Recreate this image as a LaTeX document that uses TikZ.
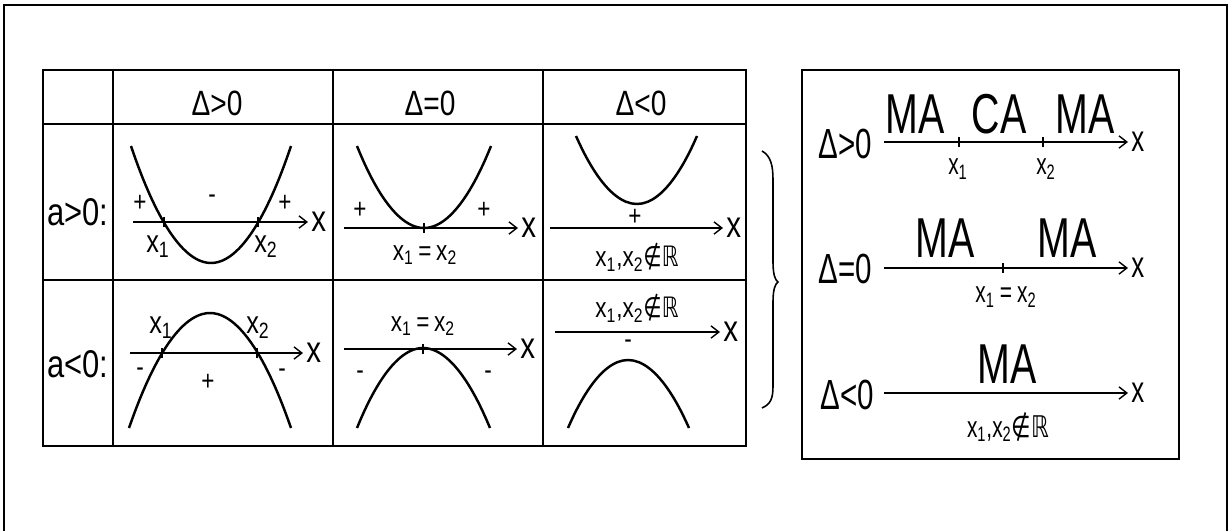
\documentclass[tikz,border=0pt]{standalone}
\usepackage{fontspec}
\setmainfont[FakeStretch=0.8]{Liberation Sans}
\newfontfamily\narrowfont[FakeStretch=0.7]{Liberation Sans}
\newfontfamily\symbolfont[FakeStretch=0.75]{DejaVu Sans}
\usetikzlibrary{arrows.meta}
\newcommand{\xone}{x\textsubscript{1}}
\newcommand{\xtwo}{x\textsubscript{2}}
\newcommand{\notinR}{\xone,\xtwo{\symbolfont ∉ℝ}}
\newcommand{\xsame}{\xone\,=\,\xtwo}

\begin{document}
\begin{tikzpicture}[x=0.02cm, y=-0.02cm,
  grid/.style={line width=1.6pt},
  curve/.style={line width=1.4pt},
  axis/.style={line width=0.8pt, -{Straight Barb[length=4.5pt, width=7pt]}},
  tick/.style={line width=0.8pt},
  hdr/.style={font=\fontsize{20}{22}\selectfont, anchor=base, inner sep=0pt},
  rowlbl/.style={font=\fontsize{22}{24}\selectfont, anchor=base, inner sep=0pt},
  lbl/.style={font=\fontsize{18}{20}\selectfont, inner sep=0pt},
  small/.style={font=\fontsize{16}{18}\selectfont, inner sep=0pt},
  sgn/.style={font=\fontsize{16}{18}\selectfont, inner sep=0pt},
  axlbl/.style={font=\fontsize{21}{23}\selectfont, anchor=west, inner sep=1.5pt},
  big/.style={font=\narrowfont\fontsize{32}{34}\selectfont, anchor=base, inner sep=0pt},
  mid/.style={font=\narrowfont\fontsize{24}{26}\selectfont, anchor=base, inner sep=0pt},
  rlbl/.style={font=\narrowfont\fontsize{17}{19}\selectfont, inner sep=0pt},
  raxlbl/.style={font=\narrowfont\fontsize{21}{23}\selectfont, anchor=west, inner sep=1.5pt}]
\useasboundingbox (0,0) rectangle (1228,531);
\draw[line width=0.9pt] (4,5) rectangle (1227,560);

% table
\draw[grid] (43,70) rectangle (746,446);
\foreach \cx in {113,333,543} \draw[grid] (\cx,70) -- (\cx,446);
\foreach \cy in {124,280} \draw[grid] (43,\cy) -- (746,\cy);
\node[hdr] (hpos) at (217,115) {Δ>0};
\node[hdr] (hzero) at (430,115) {Δ=0};
\node[hdr] (hneg) at (641,115) {Δ<0};
\node[rowlbl] (rpos) at (78,225) {a>0:};
\node[rowlbl] (rneg) at (78,377) {a<0:};

% a>0, delta>0
\draw[curve] (131,146) parabola bend (211,263) (291,146);
\draw[axis] (133,222) -- (308,222) node[axlbl] (xa1) {x};
\foreach \rx in {164,258} \draw[tick] (\rx,217) -- (\rx,227);
\node[sgn] (s11) at (140,203) {+};
\node[sgn] (s12) at (212,199) {-};
\node[sgn] (s13) at (285,203) {+};
\node[lbl] (r11) at (158,247) {\xone};
\node[lbl] (r12) at (266,247) {\xtwo};

% a>0, delta=0
\draw[curve] (357,146) parabola bend (424,228) (491,146);
\draw[axis] (344,228) -- (518,228) node[axlbl] (xa2) {x};
\draw[tick] (424,223) -- (424,233);
\node[sgn] (s21) at (360,210) {+};
\node[sgn] (s22) at (484,210) {+};
\node[small] (r21) at (425,255) {\xsame};

% a>0, delta<0
\draw[curve] (576,136) parabola bend (637,204) (697,136);
\draw[axis] (550,228) -- (723,228) node[axlbl] (xa3) {x};
\node[sgn] (s31) at (635,217) {+};
\node[small] (r31) at (637,257) {\notinR};

% a<0, delta>0
\draw[curve] (129,428) parabola bend (210,313) (291,428);
\draw[axis] (130,353) -- (303,353) node[axlbl] (xa4) {x};
\foreach \rx in {162,257} \draw[tick] (\rx,348) -- (\rx,358);
\node[sgn] (s41) at (140,372) {-};
\node[sgn] (s42) at (208,382) {+};
\node[sgn] (s43) at (282,373) {-};
\node[lbl] (r41) at (161,328) {\xone};
\node[lbl] (r42) at (258,328) {\xtwo};

% a<0, delta=0
\draw[curve] (357,428) parabola bend (423,348) (490,428);
\draw[axis] (344,349) -- (517,349) node[axlbl] (xa5) {x};
\draw[tick] (423,344) -- (423,354);
\node[sgn] (s51) at (360,375) {-};
\node[sgn] (s52) at (488,375) {-};
\node[small] (r51) at (423,326) {\xsame};

% a<0, delta<0
\draw[curve] (568,428) parabola bend (628,360) (689,428);
\draw[axis] (555,332) -- (720,332) node[axlbl] (xa6) {x};
\node[sgn] (s61) at (628,344) {-};
\node[small] (r61) at (637,308) {\notinR};

% brace
\draw[line width=0.9pt] (762,151) .. controls (771,156) and (773,166) .. (773,180) -- (773,262)
  .. controls (773,274) and (775,280) .. (778,282) .. controls (775,284) and (773,290) .. (773,302)
  -- (773,386) .. controls (773,398) and (771,404) .. (762,408);

% summary box
\draw[line width=1.6pt] (802,70) rectangle (1179,459);
\node[mid] (dpos) at (845,158) {Δ>0};
\draw[axis] (884,142) -- (1128,142) node[raxlbl] (xb1) {x};
\foreach \rx in {959,1043} \draw[tick] (\rx,137) -- (\rx,147);
\node[big] (ma1) at (915,133) {MA};
\node[big] (ca1) at (999,133) {CA};
\node[big] (ma2) at (1085,133) {MA};
\node[rlbl] (b11) at (958,169) {\xone};
\node[rlbl] (b12) at (1046,169) {\xtwo};

\node[mid] (dzero) at (845,283) {Δ=0};
\draw[axis] (884,268) -- (1128,268) node[raxlbl] (xb2) {x};
\draw[tick] (1003,263) -- (1003,273);
\node[big] (ma3) at (945,257) {MA};
\node[big] (ma4) at (1067,257) {MA};
\node[rlbl] (b21) at (1006,297) {\xsame};

\node[mid] (dneg) at (847,409) {Δ<0};
\draw[axis] (884,393) -- (1128,393) node[raxlbl] (xb3) {x};
\node[big] (ma5) at (1007,383) {MA};
\node[rlbl] (b31) at (1008,427) {\notinR};
\end{tikzpicture}
\end{document}
